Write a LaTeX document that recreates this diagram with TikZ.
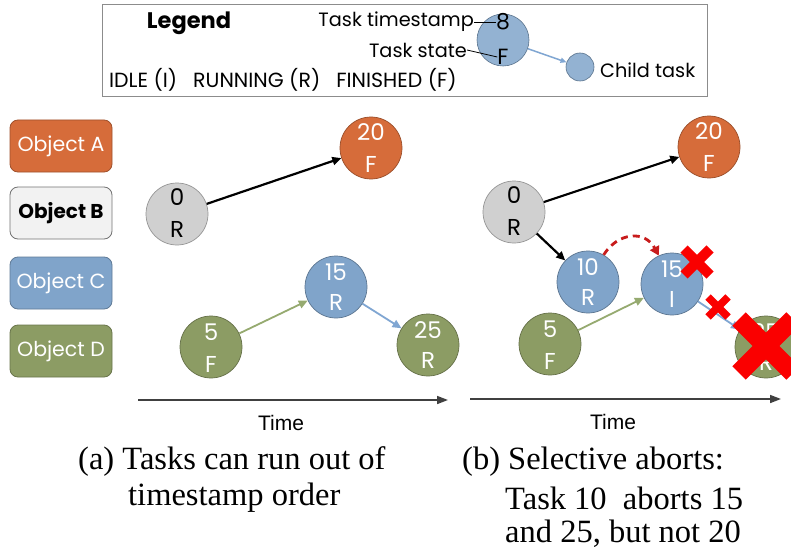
\documentclass[tikz,border=0pt]{standalone}
\usepackage{fontspec}
\setmainfont{Liberation Serif}
\newfontfamily\gothic{Poppins}
\newfontfamily\arialf{Liberation Sans}
\usetikzlibrary{arrows.meta}
\definecolor{cOrange}{RGB}{214,108,58}
\definecolor{cGray}{RGB}{208,208,208}
\definecolor{cLight}{RGB}{242,242,242}
\definecolor{cBlue}{RGB}{128,164,202}
\definecolor{cGreen}{RGB}{140,156,100}
\definecolor{cGreenA}{RGB}{150,170,112}
\definecolor{cBlueA}{RGB}{128,166,210}
\definecolor{cRed}{RGB}{250,0,0}
\definecolor{cDRed}{RGB}{200,28,28}
\begin{document}
\begin{tikzpicture}[x=1pt,y=-1pt,
  task/.style={circle, minimum size=62pt, inner sep=0pt, draw=#1!72!black, line width=0.7pt, fill=#1},
  ttext/.style={font=\gothic\fontsize{23}{23}\selectfont, text=white, inner sep=0pt},
  btext/.style={font=\gothic\fontsize{23}{23}\selectfont, text=black, inner sep=0pt},
  objbox/.style={rounded corners=8pt, minimum width=102pt, minimum height=52pt, fill=#1, draw=#1!75!black, line width=0.8pt, font=\gothic\fontsize{20.5}{20.5}\selectfont, text=white},
  legtext/.style={font=\gothic\fontsize{19.3}{19.3}\selectfont, inner sep=0pt},
  conn/.style={line width=2.2pt, -{Triangle[length=9pt,width=8pt]}},
  axis/.style={line width=1.6pt, draw=black!75, -{Triangle[length=11pt,width=8pt]}},
  timetext/.style={font=\arialf\fontsize{21}{21}\selectfont, inner sep=0pt},
  captext/.style={font=\fontsize{32.5}{32.5}\selectfont, inner sep=0pt, anchor=west},
]
\useasboundingbox (0,0) rectangle (791,556);
\fill[white] (0,0) rectangle (791,556);

% Legend
\node[draw=black!45, line width=1pt, minimum width=605pt, minimum height=92pt, inner sep=0pt] (legend) at (404.5,51) {};
\node[legtext, font=\gothic\bfseries\fontsize{22.5}{22.5}\selectfont] (legtitle) at (189,23) {Legend};
\node[circle, minimum size=52pt, inner sep=0pt, fill=cBlue!85, draw=cBlue!70!black, line width=0.6pt] (lc) at (503,40) {};
\node[circle, minimum size=28pt, inner sep=0pt, fill=cBlue!85, draw=cBlue!70!black, line width=0.6pt] (lchild) at (580,67) {};
\draw[cBlueA, line width=1.5pt, -{Triangle[length=6pt,width=5pt]}] (lc) -- (lchild);
\node[legtext, font=\gothic\fontsize{22}{22}\selectfont] (l8) at (503,22) {8};
\node[legtext, font=\gothic\fontsize{22}{22}\selectfont] (lF) at (503,57) {F};
\node[legtext, anchor=east] (lts) at (474,22) {Task timestamp};
\node[legtext, anchor=east] (lst) at (467,50) {Task state};
\draw[line width=0.8pt] (lts.east) -- (l8.west);
\draw[line width=0.8pt] (lst.east) -- (lF.west);
\node[legtext, anchor=west] (lchildt) at (600,70) {Child task};
\node[legtext, anchor=west, font=\gothic\fontsize{20.5}{20.5}\selectfont] (lstates) at (109,80) {IDLE (I)\hspace{16pt}RUNNING (R)\hspace{16pt}FINISHED (F)};

% Object boxes
\node[objbox=cOrange] (oA) at (61,146) {Object A};
\node[objbox=cLight, draw=black!55, text=black, font=\gothic\bfseries\fontsize{20}{20}\selectfont] (oB) at (61,213) {Object B};
\node[objbox=cBlue] (oC) at (61,283) {Object C};
\node[objbox=cGreen] (oD) at (61,351) {Object D};

% Panel (a)
\node[task=cGray] (a0) at (177,214) {};
\node[task=cOrange] (a20) at (371,148) {};
\node[task=cBlue] (a15) at (336,287) {};
\node[task=cGreen] (a5) at (211,347) {};
\node[task=cGreen] (a25) at (428,345) {};
\node[btext] at ([yshift=17pt]a0.center) {0};
\node[btext] at ([yshift=-15pt]a0.center) {R};
\node[ttext] at ([yshift=16pt]a20.center) {20};
\node[ttext] at ([yshift=-16pt]a20.center) {F};
\node[ttext] at ([yshift=15pt]a15.center) {15};
\node[ttext] at ([yshift=-15pt]a15.center) {R};
\node[ttext] at ([yshift=15pt]a5.center) {5};
\node[ttext] at ([yshift=-17pt]a5.center) {F};
\node[ttext] at ([yshift=15pt]a25.center) {25};
\node[ttext] at ([yshift=-15pt]a25.center) {R};
\draw[conn] (a0) -- (a20);
\draw[conn, cGreenA, line width=1.8pt] (a5) -- (a15);
\draw[conn, cBlueA, line width=1.8pt] (a15) -- (a25);
\coordinate (ta1) at (138,400);
\coordinate (ta2) at (448,400);
\draw[axis] (ta1) -- (ta2);
\node[timetext] (ttA) at (281,423) {Time};

% Panel (b)
\node[task=cGray] (b0) at (514,212) {};
\node[task=cOrange] (b20) at (709,147) {};
\node[task=cBlue] (b10) at (588,282) {};
\node[task=cBlue] (b15) at (672,284) {};
\node[task=cGreen] (b5) at (550,344) {};
\node[task=cGreen] (b25) at (766,347) {};
\node[btext] at ([yshift=17pt]b0.center) {0};
\node[btext] at ([yshift=-15pt]b0.center) {R};
\node[ttext] at ([yshift=16pt]b20.center) {20};
\node[ttext] at ([yshift=-16pt]b20.center) {F};
\node[ttext] at ([yshift=15pt]b10.center) {10};
\node[ttext] at ([yshift=-15pt]b10.center) {R};
\node[ttext] at ([yshift=15pt]b15.center) {15};
\node[ttext] at ([yshift=-15pt]b15.center) {I};
\node[ttext] at ([yshift=15pt]b5.center) {5};
\node[ttext] at ([yshift=-17pt]b5.center) {F};
\node[ttext] at ([yshift=15pt]b25.center) {25};
\node[ttext] at ([yshift=-15pt]b25.center) {R};
\draw[conn] (b0) -- (b20);
\draw[conn] (b0) -- (b10);
\draw[conn, cGreenA, line width=1.8pt] (b5) -- (b15);
\draw[conn, cBlueA, line width=1.8pt] (b15) -- (b25);
\draw[cDRed, line width=2.8pt, dash pattern=on 7pt off 5pt, -{Triangle[length=9pt,width=10pt]}]
  (b10.60) .. controls (618,232) and (645,230) .. (b15.115);
\coordinate (tb1) at (470,399);
\coordinate (tb2) at (781,399);
\draw[axis] (tb1) -- (tb2);
\node[timetext] (ttB) at (613,422) {Time};

% Red crosses
\foreach \cx/\cy/\s/\w in {697/262/13/10, 718/307/10/7.5, 766/346/27/19}{
  \draw[cRed, line width=\w pt] (\cx-\s,\cy-\s) -- (\cx+\s,\cy+\s);
  \draw[cRed, line width=\w pt] (\cx-\s,\cy+\s) -- (\cx+\s,\cy-\s);
}

% Captions
\node[captext] (capa1) at (78,462) {(a) Tasks can run out of};
\node[captext] (capa2) at (128,498) {timestamp order};
\node[captext] (capb1) at (462,462) {(b) Selective aborts:};
\node[captext] (capb2) at (505,498) {Task 10\ \ aborts 15};
\node[captext] (capb3) at (505,534) {and 25, but not 20};
\end{tikzpicture}
\end{document}
